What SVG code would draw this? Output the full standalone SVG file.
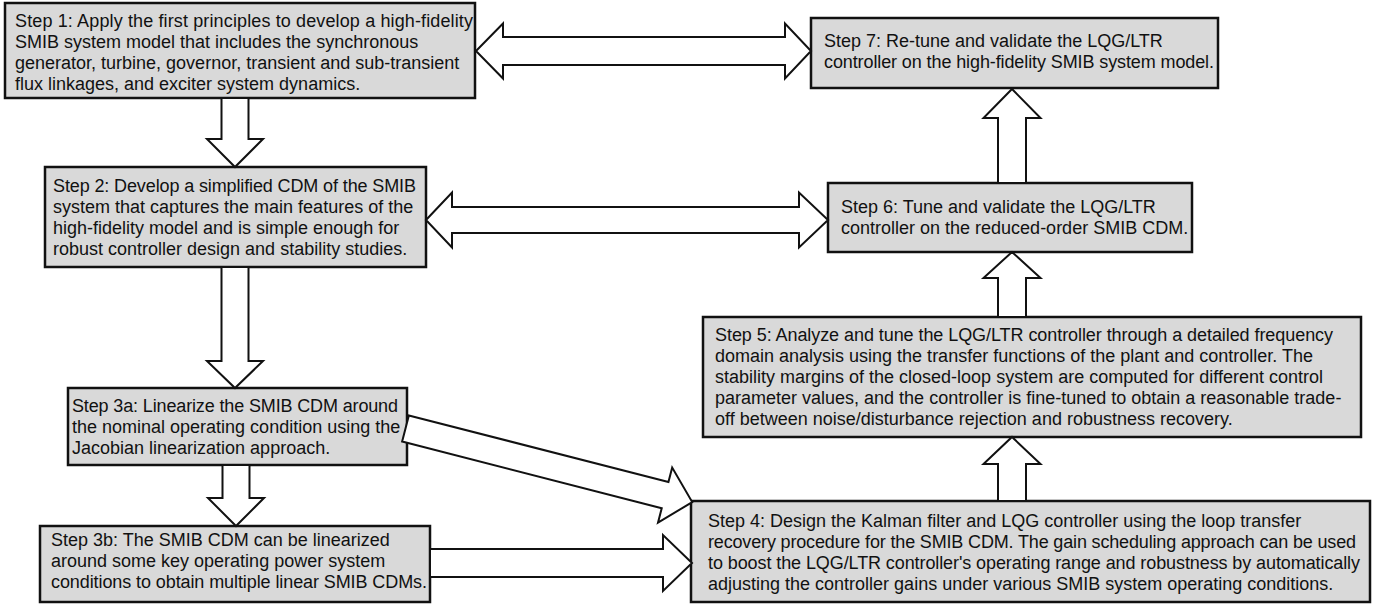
<svg xmlns="http://www.w3.org/2000/svg" width="1385" height="605" viewBox="0 0 1385 605">
<style>
  .box { fill: #d9d9d9; stroke: #111; stroke-width: 2.5; }
  .arr { fill: #fff; stroke: #111; stroke-width: 2; stroke-linejoin: miter; }
  text { font-family: "Liberation Sans", Arial, sans-serif; font-size: 18px; fill: #111; }
</style>
<rect width="1385" height="605" fill="#fff"/>
<g id="step1">
  <rect class="box" x="5" y="3" width="470" height="95"/>
  <text x="15" y="27" textLength="458" lengthAdjust="spacing">Step 1: Apply the first principles to develop a high-fidelity</text>
  <text x="15" y="48">SMIB system model that includes the synchronous</text>
  <text x="15" y="69">generator, turbine, governor, transient and sub-transient</text>
  <text x="15" y="90">flux linkages, and exciter system dynamics.</text>
</g>
<g id="step2">
  <rect class="box" x="45" y="167" width="381" height="100"/>
  <text x="53" y="192" textLength="363" lengthAdjust="spacing">Step 2: Develop a simplified CDM of the SMIB</text>
  <text x="53" y="213">system that captures the main features of the</text>
  <text x="53" y="234">high-fidelity model and is simple enough for</text>
  <text x="53" y="255">robust controller design and stability studies.</text>
</g>
<g id="step3a">
  <rect class="box" x="68" y="388" width="339" height="77"/>
  <text x="72" y="412" textLength="326" lengthAdjust="spacing">Step 3a: Linearize the SMIB CDM around</text>
  <text x="72" y="433">the nominal operating condition using the</text>
  <text x="72" y="454">Jacobian linearization approach.</text>
</g>
<g id="step3b">
  <rect class="box" x="40" y="526" width="390" height="76"/>
  <text x="51" y="546">Step 3b: The SMIB CDM can be linearized</text>
  <text x="51" y="567">around some key operating power system</text>
  <text x="51" y="588" textLength="376" lengthAdjust="spacing">conditions to obtain multiple linear SMIB CDMs.</text>
</g>
<g id="step4">
  <rect class="box" x="691" y="501" width="679" height="101"/>
  <text x="708" y="527">Step 4: Design the Kalman filter and LQG controller using the loop transfer</text>
  <text x="708" y="548" textLength="648" lengthAdjust="spacing">recovery procedure for the SMIB CDM. The gain scheduling approach can be used</text>
  <text x="708" y="569" textLength="652" lengthAdjust="spacing">to boost the LQG/LTR controller's operating range and robustness by automatically</text>
  <text x="708" y="590">adjusting the controller gains under various SMIB system operating conditions.</text>
</g>
<g id="step5">
  <rect class="box" x="703" y="317" width="658" height="120"/>
  <text x="715" y="341" textLength="618" lengthAdjust="spacing">Step 5: Analyze and tune the LQG/LTR controller through a detailed frequency</text>
  <text x="715" y="362">domain analysis using the transfer functions of the plant and controller. The</text>
  <text x="715" y="383">stability margins of the closed-loop system are computed for different control</text>
  <text x="715" y="404">parameter values, and the controller is fine-tuned to obtain a reasonable trade-</text>
  <text x="715" y="425">off between noise/disturbance rejection and robustness recovery.</text>
</g>
<g id="step6">
  <rect class="box" x="828" y="183" width="364" height="69"/>
  <text x="841" y="213">Step 6: Tune and validate the LQG/LTR</text>
  <text x="841" y="234">controller on the reduced-order SMIB CDM.</text>
</g>
<g id="step7">
  <rect class="box" x="811" y="18" width="407" height="70"/>
  <text x="824" y="47">Step 7: Re-tune and validate the LQG/LTR</text>
  <text x="824" y="68" textLength="390" lengthAdjust="spacing">controller on the high-fidelity SMIB system model.</text>
</g>
<g id="connectors">
  <polygon class="arr" points="221.5,98 248.5,98 248.5,139 263,139 235,167 207,139 221.5,139"/>
  <polygon class="arr" points="221.5,267 248.5,267 248.5,361 263,361 235,388 207,361 221.5,361"/>
  <polygon class="arr" points="222.5,465 249.5,465 249.5,498 264,498 236,526 208,498 222.5,498"/>
  <polygon class="arr" points="476,51 503,23.5 503,37 785,37 785,23.5 811,51 785,78.5 785,65 503,65 503,78.5"/>
  <polygon class="arr" points="426,220 452,192.5 452,207 799,207 799,192.5 828,220 799,247.5 799,233 452,233 452,247.5"/>
  <polygon class="arr" points="430,549 663,549 663,535 692,563 663,591 663,577 430,577"/>
  <polygon class="arr" transform="translate(405.5,428.5) rotate(14.39)" points="0,-13.5 268,-13.5 268,-28.5 296,0 268,28.5 268,13.5 0,13.5"/>
  <polygon class="arr" points="998,501 1026,501 1026,464 1040.5,464 1012,437 983.5,464 998,464"/>
  <polygon class="arr" points="998,317 1026,317 1026,278 1040.5,278 1012,252 983.5,278 998,278"/>
  <polygon class="arr" points="998,183 1026,183 1026,118 1040.5,118 1012,89 983.5,118 998,118"/>
</g>
</svg>
